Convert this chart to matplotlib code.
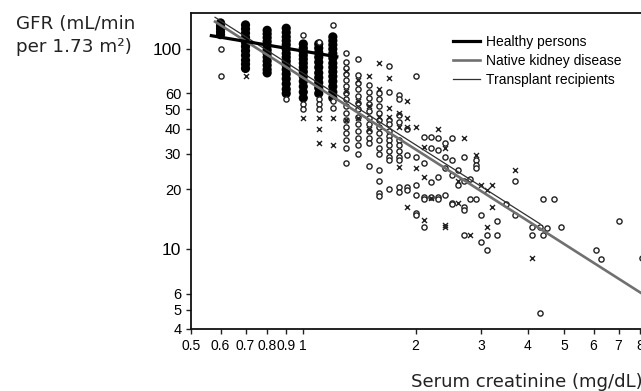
import matplotlib
matplotlib.use("Agg")
import matplotlib.pyplot as plt
from matplotlib.ticker import FixedLocator, NullLocator, FixedFormatter

# creatinine columns (mg/dL) and GFR values
healthy_scr = [0.6, 0.7, 0.8, 0.9, 1.0, 1.1, 1.2]
healthy_gfr = [
    [135, 130, 126, 122, 118],
    [132, 126, 120, 114, 108, 103, 98, 93, 88, 84, 80],
    [124, 119, 114, 109, 104, 99, 95, 91, 87, 83, 79, 76],
    [127, 121, 115, 110, 105, 100, 95, 91, 87, 83, 79, 75, 71, 67, 63, 60],
    [106, 101, 97, 93, 89, 85, 81, 77, 73, 69, 65, 61, 57],
    [106, 101, 96, 91, 86, 81, 76, 72, 68, 64, 60],
    [115, 110, 105, 100, 95, 90, 85, 81, 77, 73, 69, 65, 61, 57],
]

native_scr = [0.6, 0.9, 1.0, 1.1, 1.2, 1.3, 1.4, 1.5, 1.6, 1.7, 1.8, 1.9, 2.0,
              2.1, 2.2, 2.3, 2.4, 2.5, 2.6, 2.7, 2.8, 2.9, 3.0, 3.1, 3.3, 3.5,
              3.7, 4.1, 4.3, 4.4, 4.5, 4.7, 4.9, 6.1, 6.3, 7.0, 8.1]
native_gfr = [
    [100, 73],
    [56],
    [118, 53, 50],
    [109, 56, 53, 50],
    [132, 55, 51],
    [96, 86, 80, 75, 70, 65, 60, 56, 52, 48, 44, 41, 38, 35, 32, 27],
    [89, 74, 68, 63, 58, 54, 50, 46, 42, 39, 36, 33, 30],
    [66, 61, 57, 53, 49, 45, 42, 39, 36, 34, 26],
    [60, 56, 52, 48, 44, 41, 38, 35, 32, 30, 25, 22, 19, 18.5],
    [82, 61, 44, 42, 39, 37, 35, 33, 31, 29, 28, 20],
    [59, 56, 47, 43, 35, 33, 31, 29, 28, 20.5, 19.3],
    [40, 29.5, 20.5, 19.7],
    [73, 29, 20.9, 18.6, 15.1, 14.8],
    [36.5, 27, 18.3, 17.9, 12.9],
    [36.5, 32, 21.7, 18.3],
    [36, 31.3, 23, 18.3, 17.9],
    [34, 29, 25.4, 18.6],
    [36, 28, 23.4, 17, 16.9],
    [24.8, 21],
    [29, 22, 16.2, 15.7, 11.8],
    [22.5, 17.9],
    [27.9, 26.3, 25.4, 17.9],
    [14.8, 10.9],
    [11.8, 9.9],
    [13.8, 11.8],
    [16.9],
    [21.9, 14.8],
    [12.9, 11.8],
    [12.9, 4.8],
    [17.9, 11.8],
    [12.8],
    [17.9],
    [12.9],
    [9.9],
    [8.9],
    [13.8],
    [9.0],
]

transplant_scr = [0.7, 1.0, 1.1, 1.2, 1.3, 1.4, 1.5, 1.6, 1.7, 1.8, 1.9, 2.0,
                  2.1, 2.2, 2.3, 2.4, 2.6, 2.7, 2.8, 2.9, 3.0, 3.1, 3.2, 3.7, 4.1]
transplant_gfr = [
    [73], [45], [45, 40, 34], [45, 33], [78, 62, 44], [70, 55, 45],
    [73, 52, 40], [85, 63, 46], [72, 50.5, 46], [48, 41, 25.8],
    [55, 45, 41, 16.2], [41, 25.4], [32.5, 23, 14], [18], [40],
    [32, 13.2, 12.9], [22, 17], [36.1], [11.8], [29.5], [20.9],
    [19.7, 12.9], [20.9, 16.2], [24.8], [9.0],
]

# fitted lines
healthy_line_x = [0.567, 1.23]
healthy_line_y = [116.6, 91.5]
native_line_x = [0.58, 8.1]
native_line_y = [137, 6.0]
transplant_line_x = [0.58, 4.31]
transplant_line_y = [144, 13.4]

x_ticks = [0.5, 0.6, 0.7, 0.8, 0.9, 1, 2, 3, 4, 5, 6, 7, 8]
x_labels = ["0.5", "0.6", "0.7", "0.8", "0.9", "1", "2", "3", "4", "5", "6", "7", "8"]
y_ticks = [4, 5, 6, 10, 20, 30, 40, 50, 60, 100]
y_labels = ["4", "5", "6", "10", "20", "30", "40", "50", "60", "100"]


def expand(cols, vals):
    xs = [c for c, v in zip(cols, vals) for _ in v]
    ys = [y for v in vals for y in v]
    return xs, ys


plt.rcParams['font.family'] = ['Liberation Sans', 'DejaVu Sans']

fig = plt.figure(figsize=(6.41, 3.91), dpi=100)
ax = fig.add_axes([191 / 641, 62 / 391, 450 / 641, 315.7 / 391])
ax.set_xscale('log')
ax.set_yscale('log')
ax.set_xlim(0.5, 8.04)
ax.set_ylim(4, 150.8)

hx, hy = expand(healthy_scr, healthy_gfr)
nx, ny = expand(native_scr, native_gfr)
tx, ty = expand(transplant_scr, transplant_gfr)

ax.scatter(hx, hy, s=44, c='black', edgecolors='none', zorder=2)
ax.scatter(nx, ny, s=14, facecolors='white', edgecolors='#222222',
           linewidths=1.0, zorder=3)
ax.scatter(tx, ty, s=13, marker='x', c='#222222', linewidths=1.0, zorder=3)

ax.plot(healthy_line_x, healthy_line_y, color='black', lw=2.3, zorder=5,
        label='Healthy persons')
ax.plot(native_line_x, native_line_y, color='#707070', lw=1.9, zorder=4,
        label='Native kidney disease')
ax.plot(transplant_line_x, transplant_line_y, color='#303030', lw=0.9, zorder=4,
        label='Transplant recipients')

ax.xaxis.set_major_locator(FixedLocator(x_ticks))
ax.xaxis.set_major_formatter(FixedFormatter(x_labels))
ax.xaxis.set_minor_locator(NullLocator())
ax.yaxis.set_major_locator(FixedLocator(y_ticks))
ax.yaxis.set_major_formatter(FixedFormatter(y_labels))
ax.yaxis.set_minor_locator(NullLocator())

ax.tick_params(axis='both', direction='out', length=3.5, width=1.0,
               color='#222222', pad=3.5)
ax.tick_params(axis='x', labelsize=10)
ax.tick_params(axis='y', labelsize=10.5)
for lab in ax.get_yticklabels():
    if lab.get_text() in ("10", "100"):
        lab.set_fontsize(12.5)

ax.spines['right'].set_visible(False)
for side in ('left', 'bottom', 'top'):
    ax.spines[side].set_linewidth(1.3)
    ax.spines[side].set_color('#111111')

leg = ax.legend(loc='upper left', bbox_to_anchor=(453 / 641, 1 - 35 / 391),
                bbox_transform=fig.transFigure, frameon=False, fontsize=10,
                handlelength=1.95, handletextpad=0.45, labelspacing=0.35,
                borderpad=0, borderaxespad=0)

fig.text(16 / 641, 1 - 29 / 391, "GFR (mL/min", fontsize=13.2,
         family='DejaVu Sans', va='baseline', ha='left', color='#222222')
fig.text(16 / 641, 1 - 52 / 391, "per 1.73 m²)", fontsize=13.2,
         family='DejaVu Sans', va='baseline', ha='left', color='#222222')
fig.text(411 / 641, 1 - 387 / 391, "Serum creatinine (mg/dL)", fontsize=13.1,
         family='DejaVu Sans', va='baseline', ha='left', color='#222222')

fig.savefig('out.png', dpi=100)
